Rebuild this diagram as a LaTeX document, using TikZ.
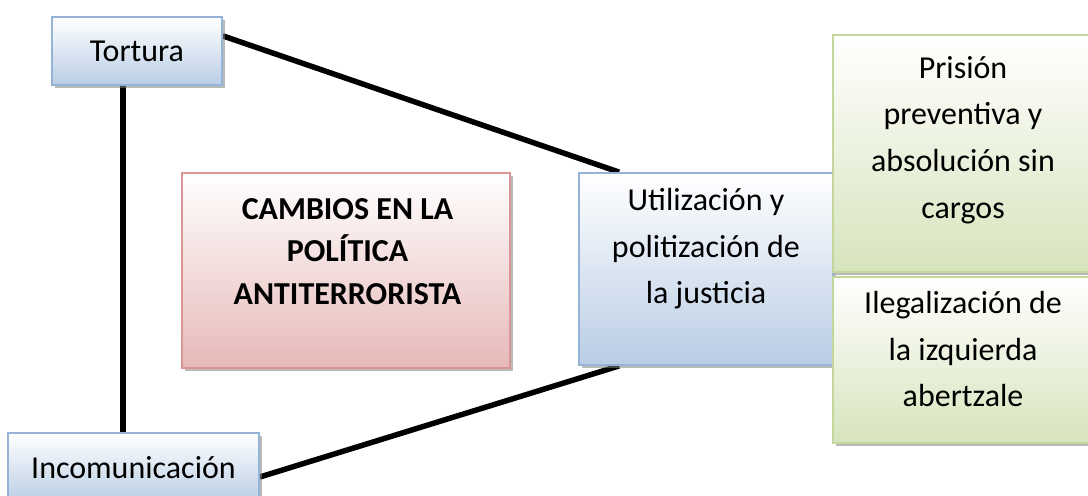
\documentclass[tikz,border=0pt]{standalone}
\usepackage{fontspec}
\setmainfont{Carlito}
\usetikzlibrary{positioning, calc, shadows, backgrounds}
\definecolor{blueline}{RGB}{149,179,215}
\definecolor{bluefill}{RGB}{185,205,229}
\definecolor{redline}{RGB}{217,150,148}
\definecolor{redfill}{RGB}{230,185,184}
\definecolor{greenline}{RGB}{195,214,155}
\definecolor{greenfill}{RGB}{215,228,189}
\tikzset{
	boxbase/.style={rectangle, inner sep=0pt, line width=1pt, top color=white,
		drop shadow={shadow xshift=1.8pt, shadow yshift=-1.8pt, opacity=0.55, fill=gray}},
	bluebox/.style={boxbase, draw=blueline, bottom color=bluefill},
	redbox/.style={boxbase, draw=redline, bottom color=redfill},
	greenbox/.style={boxbase, draw=greenline, bottom color=greenfill},
	boxtext/.style={inner sep=0pt, align=center, anchor=north},
	link/.style={line width=0.11cm, black}
}
\begin{document}
\begin{tikzpicture}[x=0.02cm, y=-0.02cm, font=\fontsize{18.2}{26.5}\selectfont]
			\useasboundingbox (0,0) rectangle (1088,495);
			% boxes
			\node[bluebox, minimum width=3.4cm, minimum height=1.36cm] (tortura) at (137,51) {Tortura};
			\node[bluebox, minimum width=5.02cm, minimum height=1.4cm] (incom) at (133.5,468) {Incomunicación};
			\node[redbox, minimum width=6.56cm, minimum height=3.9cm] (cambios) at (346,270.5) {};
			\node[bluebox, minimum width=5.08cm, minimum height=3.84cm] (utiliz) at (706,269) {};
			\node[greenbox, minimum width=5.2cm, minimum height=4.74cm] (prision) at (963,153.5) {};
			\node[greenbox, minimum width=5.2cm, minimum height=3.32cm] (ilegal) at (963,360) {};
			% texts
			\node[boxtext, font=\fontsize{18.2}{24.1}\selectfont\bfseries] (cambiostxt) at (347.5,198)
				{CAMBIOS EN LA\\POLÍTICA\\ANTITERRORISTA};
			\node[boxtext] (utiliztxt) at (706,188) {Utilización y\\politización de\\la justicia};
			\node[boxtext] (prisiontxt) at (963,56) {Prisión\\preventiva y\\absolución sin\\cargos};
			\node[boxtext] (ilegaltxt) at (963,291) {Ilegalización de\\la izquierda\\abertzale};
			% connectors
			\begin{scope}[on background layer]
				\draw[link] (tortura.10) -- ($(utiliz.north west)+(41,0)$);
				\draw[link] ($(tortura.south)+(-14,0)$) -- ($(incom.north)+(-10.5,0)$);
				\draw[link] ($(incom.east)+(0,9)$) -- ($(utiliz.south west)+(41,0)$);
			\end{scope}
		\end{tikzpicture}
\end{document}
